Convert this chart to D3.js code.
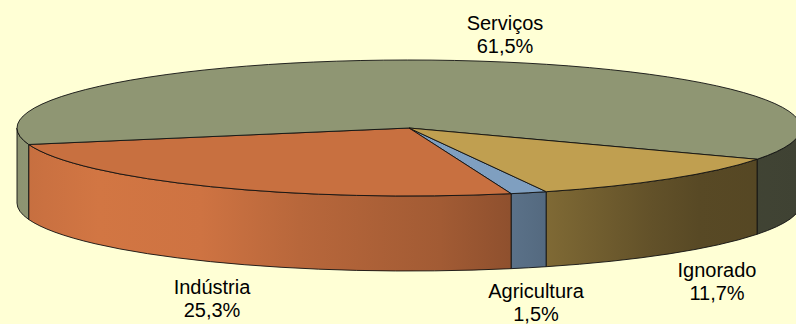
<!DOCTYPE html>
<html>
<head>
<meta charset="utf-8">
<script src="https://cdn.jsdelivr.net/npm/d3@7/dist/d3.min.js"></script>
<style>
  html, body { margin: 0; padding: 0; background: #FFFFD5; }
  svg { display: block; }
  text { font-family: "Liberation Sans", Arial, sans-serif; fill: #000; }
</style>
</head>
<body>
<svg id="chart" width="796" height="324"></svg>
<script>
// Employment by sector (share of total, %)
const categories = ["Agricultura", "Indústria", "Serviços", "Ignorado"];
const values = [1.5, 25.3, 61.5, 11.7];
const valueLabels = ["1,5%", "25,3%", "61,5%", "11,7%"];
const colors = ["#7F9FC0", "#C87040", "#8F9673", "#C09F50"];
// label anchor (centre x, first baseline) per category
const labelPos = [[536, 298], [212, 294], [505, 30], [717, 277]];

const W = 796, H = 324;
const cx = 409, cy = 128, rx = 392, ry = 68, depth = 75;

const svg = d3.select("#chart");
svg.append("rect").attr("width", W).attr("height", H).attr("fill", "#FFFFD5");

const start = (159.5 * Math.PI) / 180;
const pie = d3.pie().sort(null).value(d => d.v).startAngle(start).endAngle(start + 2 * Math.PI);
const data = categories.map((c, i) => ({ c, v: values[i], color: colors[i], label: valueLabels[i], pos: labelPos[i] }));
const arcs = pie(data);

// point on the tilted rim; t measured clockwise from the +x axis (screen coords)
const px = t => cx + rx * Math.cos(t);
const py = t => cy + ry * Math.sin(t);

// side shading as a function of horizontal rim position (cos t)
const shade = [[-1, 0.98], [-0.93, 1.01], [-0.79, 1.05], [-0.53, 1.03], [-0.28, 0.92],
               [0.08, 0.81], [0.23, 0.73], [0.39, 0.64], [0.62, 0.51], [0.74, 0.46], [1, 0.44]];

const defs = svg.append("defs");
data.forEach((d, i) => {
  const g = defs.append("linearGradient")
    .attr("id", "side" + i)
    .attr("gradientUnits", "userSpaceOnUse")
    .attr("x1", cx - rx).attr("x2", cx + rx).attr("y1", 0).attr("y2", 0);
  const base = d3.rgb(d.color);
  shade.forEach(([c, f]) => {
    const col = d3.rgb(Math.min(255, base.r * f), Math.min(255, base.g * f), Math.min(255, base.b * f));
    g.append("stop").attr("offset", (c + 1) / 2).attr("stop-color", col.formatHex());
  });
});

// front walls: visible where sin(t) >= 0
const walls = [];
arcs.forEach((a, i) => {
  const t0 = a.startAngle - Math.PI / 2;
  const t1 = a.endAngle - Math.PI / 2;
  [[0, Math.PI], [2 * Math.PI, 3 * Math.PI]].forEach(([lo, hi]) => {
    const ta = Math.max(t0, lo), tb = Math.min(t1, hi);
    if (tb > ta) walls.push({ i, ta, tb });
  });
});

const wallPath = w => {
  const { ta, tb } = w;
  return `M${px(ta)},${py(ta)} A${rx},${ry} 0 0 1 ${px(tb)},${py(tb)}` +
         ` L${px(tb)},${py(tb) + depth} A${rx},${ry} 0 0 0 ${px(ta)},${py(ta) + depth} Z`;
};

svg.append("g").selectAll("path").data(walls).join("path")
  .attr("d", wallPath)
  .attr("fill", w => `url(#side${w.i})`)
  .attr("stroke", "#111")
  .attr("stroke-width", 0.9)
  .attr("stroke-linejoin", "round");

// top faces
const topPath = a => {
  const t0 = a.startAngle - Math.PI / 2;
  const t1 = a.endAngle - Math.PI / 2;
  const large = (a.endAngle - a.startAngle) > Math.PI ? 1 : 0;
  return `M${cx},${cy} L${px(t0)},${py(t0)} A${rx},${ry} 0 ${large} 1 ${px(t1)},${py(t1)} Z`;
};

svg.append("g").selectAll("path").data(arcs).join("path")
  .attr("d", topPath)
  .attr("fill", a => a.data.color)
  .attr("stroke", "#111")
  .attr("stroke-width", 0.9)
  .attr("stroke-linejoin", "round");

// labels
const lab = svg.append("g").selectAll("text").data(arcs).join("text")
  .attr("text-anchor", "middle")
  .attr("font-size", 20);
lab.append("tspan").attr("x", a => a.data.pos[0]).attr("y", a => a.data.pos[1]).text(a => a.data.c);
lab.append("tspan").attr("x", a => a.data.pos[0]).attr("y", a => a.data.pos[1] + 22.5).text(a => a.data.label);
</script>
</body>
</html>
